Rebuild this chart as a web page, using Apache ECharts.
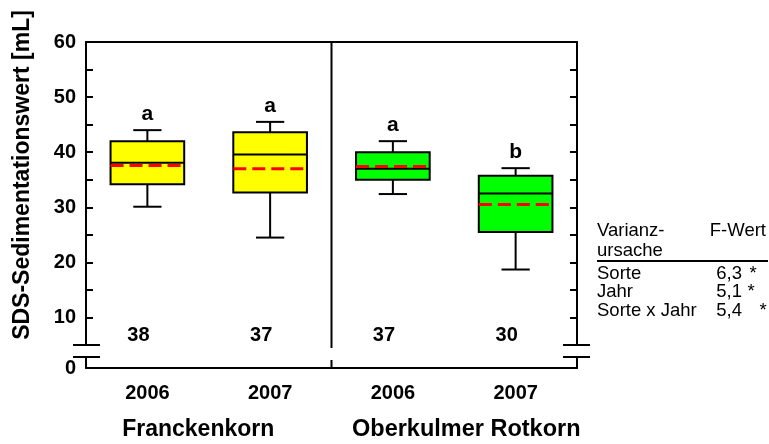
<!DOCTYPE html>
<html>
<head>
<meta charset="utf-8">
<script src="https://cdn.jsdelivr.net/npm/echarts@6/dist/echarts.min.js"></script>
<style>
  html, body { margin: 0; padding: 0; background: #fff; }
  #chart { width: 769px; height: 444px; }
</style>
</head>
<body>
<div id="chart"></div>
<script>
// SDS sedimentation values per variety and harvest year
const categories = ['2006', '2007', '2006', '2007'];
const groups = ['Franckenkorn', 'Oberkulmer Rotkorn'];
const groupOfBox = [0, 0, 1, 1];
const whiskerLow = [30.1, 24.5, 32.4, 18.7];
const quartile1 = [34.2, 32.7, 35.0, 25.5];
const medians = [38.1, 39.6, 37.0, 32.5];
const quartile3 = [42.0, 43.6, 40.0, 35.7];
const whiskerHigh = [44.0, 45.5, 42.0, 37.1];
const means = [37.6, 37.0, 37.4, 30.5];
const letters = ['a', 'a', 'a', 'b'];
const counts = [38, 37, 37, 30];
const yTickLabels = [10, 20, 30, 40, 50, 60];
const lowTickLabels = [0];

// analysis of variance summary
const anovaSources = ['Sorte', 'Jahr', 'Sorte x Jahr'];
const anovaF = ['6,3', '5,1', '5,4'];
const anovaSig = ['*', '*', '*'];

const FONT = '"Liberation Sans", Arial, Helvetica, sans-serif';
const BOX_FILL = ['#ffff00', '#00ff00'];
const COUNT_LEVEL = 6.7;

const chart = echarts.init(document.getElementById('chart'), null, { renderer: 'canvas' });

function renderBox(params, api) {
  const i = api.value(0);
  const x = api.coord([i, 30])[0];
  const band = api.size([1, 0])[0];
  const boxW = band * 0.6;
  const capW = band * 0.23;
  const yLo = api.coord([i, api.value(1)])[1];
  const yQ1 = api.coord([i, api.value(2)])[1];
  const yMed = api.coord([i, api.value(3)])[1];
  const yQ3 = api.coord([i, api.value(4)])[1];
  const yHi = api.coord([i, api.value(5)])[1];
  const yMean = api.coord([i, api.value(6)])[1];
  const yCount = api.coord([i, COUNT_LEVEL])[1];
  const black = { stroke: '#000', lineWidth: 2 };
  return {
    type: 'group',
    children: [
      { type: 'line', shape: { x1: x, y1: yHi, x2: x, y2: yQ3 }, style: black },
      { type: 'line', shape: { x1: x, y1: yQ1, x2: x, y2: yLo }, style: black },
      { type: 'line', shape: { x1: x - capW / 2, y1: yHi, x2: x + capW / 2, y2: yHi }, style: black },
      { type: 'line', shape: { x1: x - capW / 2, y1: yLo, x2: x + capW / 2, y2: yLo }, style: black },
      { type: 'rect', shape: { x: x - boxW / 2, y: yQ3, width: boxW, height: yQ1 - yQ3 },
        style: { fill: BOX_FILL[groupOfBox[i]], stroke: '#000', lineWidth: 2 } },
      { type: 'line', shape: { x1: x - boxW / 2, y1: yMed, x2: x + boxW / 2, y2: yMed }, style: black },
      { type: 'line', shape: { x1: x - boxW / 2, y1: yMean, x2: x + boxW / 2, y2: yMean },
        style: { stroke: '#ff0000', lineWidth: 3, lineDash: [13, 6] } },
      { type: 'text', x: x, y: yHi - 15.5,
        style: { text: letters[i], fill: '#000', fontSize: 21, fontWeight: 'bold', fontFamily: FONT,
                 align: 'center', verticalAlign: 'middle' } },
      { type: 'text', x: x - 9, y: yCount,
        style: { text: String(counts[i]), fill: '#000', fontSize: 20, fontWeight: 'bold', fontFamily: FONT,
                 align: 'center', verticalAlign: 'middle' } }
    ]
  };
}

// axis break marks plus the divider between the two varieties
function renderFrame(level, upper) {
  return function (params, api) {
    const cs = params.coordSys;
    const y = api.coord([0, level])[1];
    const band = api.size([1, 0])[0];
    const xDiv = api.coord([1, level])[0] + band / 2;
    const st = { stroke: '#000', lineWidth: 2 };
    const divider = upper
      ? { type: 'line', shape: { x1: xDiv, y1: cs.y, x2: xDiv, y2: cs.y + cs.height + 3 }, style: st }
      : { type: 'line', shape: { x1: xDiv, y1: cs.y + 3, x2: xDiv, y2: cs.y + cs.height }, style: st };
    return {
      type: 'group',
      children: [
        divider,
        { type: 'line', shape: { x1: cs.x - 13, y1: y, x2: cs.x + 14, y2: y }, style: st },
        { type: 'line', shape: { x1: cs.x + cs.width - 14, y1: y, x2: cs.x + cs.width + 13, y2: y }, style: st }
      ]
    };
  };
}

const axisLineStyle = { show: true, lineStyle: { color: '#000', width: 2 } };

const table = [];
const tStyle = (text, extra) => Object.assign({ text: text, fill: '#000', fontSize: 18.5, fontFamily: FONT,
  verticalAlign: 'middle', align: 'left' }, extra || {});
table.push({ type: 'text', x: 597, y: 231, style: tStyle('Varianz-') });
table.push({ type: 'text', x: 766, y: 231, style: tStyle('F-Wert', { align: 'right' }) });
table.push({ type: 'text', x: 597, y: 251, style: tStyle('ursache') });
table.push({ type: 'line', shape: { x1: 597, y1: 261, x2: 768, y2: 261 }, style: { stroke: '#000', lineWidth: 2 } });
const starX = [753, 751, 763];
anovaSources.forEach(function (src, k) {
  const y = 274 + k * 18.3;
  table.push({ type: 'text', x: 597, y: y, style: tStyle(src) });
  table.push({ type: 'text', x: 742, y: y, style: tStyle(anovaF[k], { align: 'right' }) });
  table.push({ type: 'text', x: starX[k], y: y, style: tStyle(anovaSig[k], { align: 'center' }) });
});
table.push({
  type: 'text', x: 23, y: 175, rotation: Math.PI / 2,
  style: { text: 'SDS-Sedimentationswert [mL]', fill: '#000', fontSize: 23, fontWeight: 'bold',
           fontFamily: FONT, align: 'center', verticalAlign: 'middle' }
});

const option = {
  animation: false,
  backgroundColor: '#fff',
  grid: [
    { left: 86, top: 42, width: 491, height: 303, outerBoundsMode: 'none', containLabel: false },
    { left: 86, top: 357, width: 491, height: 11, outerBoundsMode: 'none', containLabel: false }
  ],
  xAxis: [
    { gridIndex: 0, type: 'category', data: categories, position: 'top', boundaryGap: true,
      axisLine: axisLineStyle, axisTick: { show: false }, axisLabel: { show: false },
      splitLine: { show: false } },
    { gridIndex: 1, type: 'category', data: categories, position: 'bottom', boundaryGap: true,
      axisLine: axisLineStyle, axisTick: { show: false },
      axisLabel: { show: true, interval: 0, margin: 15, color: '#000', fontSize: 20, fontWeight: 'bold', fontFamily: FONT },
      splitLine: { show: false } },
    { gridIndex: 1, type: 'category', data: groups, position: 'bottom', offset: 40, boundaryGap: true,
      axisLine: { show: false }, axisTick: { show: false }, splitLine: { show: false },
      axisLabel: {
        show: true, interval: 0, margin: 10, color: '#000', fontSize: 23, fontWeight: 'bold', fontFamily: FONT,
        formatter: function (v, idx) { return idx === 0 ? '{l|' + v + '}' : '{r|' + v + '}'; },
        rich: {
          l: { padding: [0, 21, 0, 0], fontSize: 23, fontWeight: 'bold', fontFamily: FONT, color: '#000' },
          r: { padding: [0, 0, 0, 24], fontSize: 23.5, fontWeight: 'bold', fontFamily: FONT, color: '#000' }
        }
      } }
  ],
  yAxis: [
    { gridIndex: 0, type: 'value', min: 5, max: 60, interval: 5, position: 'left',
      axisLine: axisLineStyle, splitLine: { show: false },
      axisTick: { show: true, inside: true, length: 7, lineStyle: { color: '#000', width: 2 } },
      axisLabel: { show: true, margin: 10, color: '#000', fontSize: 20, fontWeight: 'bold', fontFamily: FONT,
        formatter: function (v) { return yTickLabels.indexOf(v) >= 0 ? String(v) : ''; } } },
    { gridIndex: 1, type: 'value', min: 0, max: 2, interval: 2, position: 'left',
      axisLine: axisLineStyle, splitLine: { show: false }, axisTick: { show: false },
      axisLabel: { show: true, margin: 10, color: '#000', fontSize: 20, fontWeight: 'bold', fontFamily: FONT,
        formatter: function (v) { return lowTickLabels.indexOf(v) >= 0 ? String(v) : ''; } } },
    { gridIndex: 0, type: 'value', min: 5, max: 60, interval: 5, position: 'right',
      axisLine: axisLineStyle, splitLine: { show: false },
      axisTick: { show: true, inside: true, length: 7, lineStyle: { color: '#000', width: 2 } },
      axisLabel: { show: false } },
    { gridIndex: 1, type: 'value', min: 0, max: 2, interval: 2, position: 'right',
      axisLine: axisLineStyle, splitLine: { show: false }, axisTick: { show: false }, axisLabel: { show: false } }
  ],
  series: [
    { type: 'custom', xAxisIndex: 0, yAxisIndex: 0, clip: false, renderItem: renderFrame(5, true),
      data: [[0, 5]], silent: true },
    { type: 'custom', xAxisIndex: 1, yAxisIndex: 1, clip: false, renderItem: renderFrame(2, false),
      data: [[0, 2]], silent: true },
    {
      type: 'custom', name: 'SDS', xAxisIndex: 0, yAxisIndex: 0, clip: false,
      renderItem: renderBox,
      encode: { x: 0, y: [1, 2, 3, 4, 5, 6] },
      data: categories.map(function (c, i) {
        return [i, whiskerLow[i], quartile1[i], medians[i], quartile3[i], whiskerHigh[i], means[i]];
      })
    }
  ],
  graphic: table
};

chart.setOption(option);
</script>
</body>
</html>
